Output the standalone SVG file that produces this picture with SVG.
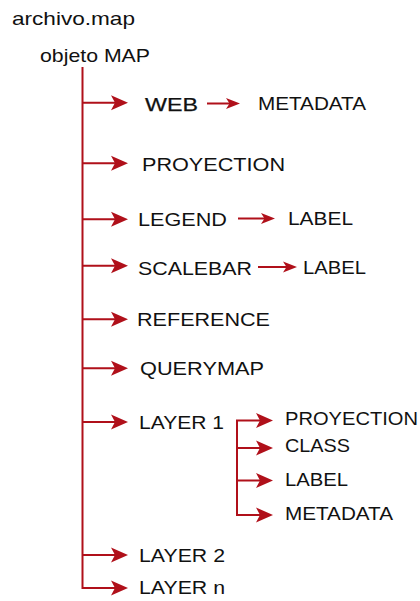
<svg xmlns="http://www.w3.org/2000/svg" xmlns:xlink="http://www.w3.org/1999/xlink" width="420" height="601" viewBox="0 0 420 601">
<style>
text{font-family:"Liberation Sans",Arial,sans-serif;font-size:19px;fill:#111}
.sm{font-size:18px}
.ln{fill:none;stroke:#b0101a;stroke-width:2}
.ah{fill:#b0101a}
</style>
<defs>
<path id="ah" class="ah" d="M0,0 L-17,-7.5 L-13,0 L-17,7.5 Z"/>
<path id="ahs" class="ah" d="M0,0 L-14,-5.5 L-10.5,0 L-14,5.5 Z"/>
</defs>
<rect width="420" height="601" fill="#fff"/>
<g id="connectors">
<path class="ln" d="M82.5,67 V588 H116"/>
<path class="ln" d="M82.5,102.8 H116 M82.5,163.3 H116 M82.5,219.3 H116 M82.5,265.7 H116 M82.5,319.3 H116 M82.5,368.3 H116 M82.5,422 H116 M82.5,555 H116"/>
<use xlink:href="#ah" x="128" y="102.8"/>
<use xlink:href="#ah" x="128" y="163.3"/>
<use xlink:href="#ah" x="128" y="219.3"/>
<use xlink:href="#ah" x="128" y="265.7"/>
<use xlink:href="#ah" x="128" y="319.3"/>
<use xlink:href="#ah" x="128" y="368.3"/>
<use xlink:href="#ah" x="128" y="422"/>
<use xlink:href="#ah" x="128" y="555"/>
<use xlink:href="#ah" x="128" y="588"/>
<path class="ln" d="M207,103.5 H231 M238,218.5 H266 M258,267 H288"/>
<use xlink:href="#ahs" x="240" y="103.5"/>
<use xlink:href="#ahs" x="275" y="218.5"/>
<use xlink:href="#ahs" x="297" y="267"/>
<path class="ln" d="M262,420.5 H237 V515 H262 M237,448 H262 M237,480.5 H262"/>
<use xlink:href="#ah" x="273" y="420.5"/>
<use xlink:href="#ah" x="273" y="448"/>
<use xlink:href="#ah" x="273" y="480.5"/>
<use xlink:href="#ah" x="273" y="515"/>
</g>
<g id="archivo"><text x="12" y="25" textLength="123" lengthAdjust="spacingAndGlyphs">archivo.map</text></g>
<g id="objeto"><text x="40" y="62" textLength="110" lengthAdjust="spacingAndGlyphs">objeto MAP</text></g>
<g id="web"><text x="145" y="110.5" textLength="53" lengthAdjust="spacingAndGlyphs" style="stroke:#111;stroke-width:0.25">WEB</text></g>
<g id="web-metadata"><text class="sm" x="258" y="110" textLength="108" lengthAdjust="spacingAndGlyphs">METADATA</text></g>
<g id="proyection"><text x="142" y="170.5" textLength="143" lengthAdjust="spacingAndGlyphs">PROYECTION</text></g>
<g id="legend"><text x="138" y="226" textLength="89" lengthAdjust="spacingAndGlyphs">LEGEND</text></g>
<g id="legend-label"><text class="sm" x="288" y="224.5" textLength="65" lengthAdjust="spacingAndGlyphs">LABEL</text></g>
<g id="scalebar"><text x="138" y="275" textLength="114" lengthAdjust="spacingAndGlyphs">SCALEBAR</text></g>
<g id="scalebar-label"><text class="sm" x="303" y="273.5" textLength="63" lengthAdjust="spacingAndGlyphs">LABEL</text></g>
<g id="reference"><text x="137" y="326" textLength="133" lengthAdjust="spacingAndGlyphs">REFERENCE</text></g>
<g id="querymap"><text x="140" y="375" textLength="124" lengthAdjust="spacingAndGlyphs">QUERYMAP</text></g>
<g id="layer1"><text x="139" y="428.5" textLength="85" lengthAdjust="spacingAndGlyphs">LAYER 1</text></g>
<g id="layer1-proyection"><text class="sm" x="285" y="424.5" textLength="133" lengthAdjust="spacingAndGlyphs">PROYECTION</text></g>
<g id="layer1-class"><text class="sm" x="285" y="452" textLength="65" lengthAdjust="spacingAndGlyphs">CLASS</text></g>
<g id="layer1-label"><text class="sm" x="285" y="486" textLength="63" lengthAdjust="spacingAndGlyphs">LABEL</text></g>
<g id="layer1-metadata"><text class="sm" x="285" y="520" textLength="108" lengthAdjust="spacingAndGlyphs">METADATA</text></g>
<g id="layer2"><text x="139" y="562" textLength="86" lengthAdjust="spacingAndGlyphs">LAYER 2</text></g>
<g id="layern"><text x="139" y="594" textLength="86" lengthAdjust="spacingAndGlyphs">LAYER n</text></g>
</svg>
